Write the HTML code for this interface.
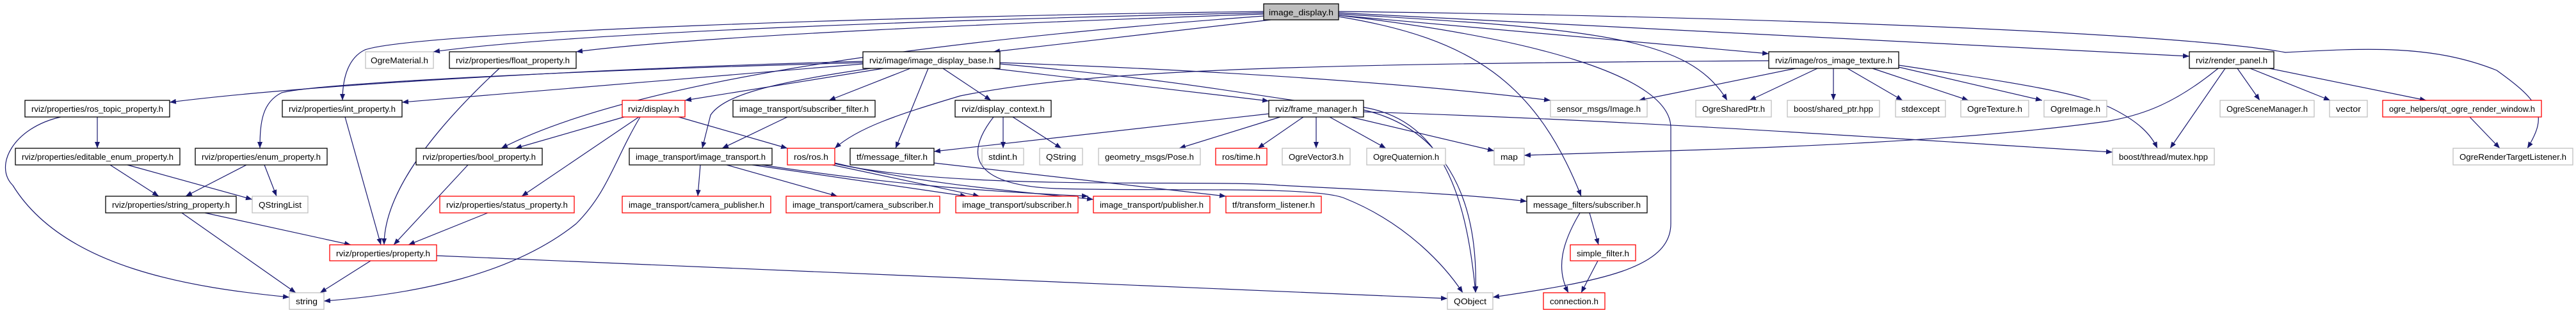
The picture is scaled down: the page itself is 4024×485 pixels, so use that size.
<!DOCTYPE html>
<html><head><meta charset="utf-8"><style>
html,body{margin:0;padding:0;background:#fff;}
svg{display:block;}
text{font-family:"Liberation Sans",sans-serif;font-size:13px;fill:#000;}
.e{fill:none;stroke:#191970;stroke-width:1.2;marker-end:url(#a);}
.b{fill:#fff;stroke:#000;stroke-width:1.3;}
.g{fill:#fff;stroke:#bfbfbf;stroke-width:1.3;}
.r{fill:#fff;stroke:#ff0000;stroke-width:1.3;}
</style></head><body>
<svg width="4024" height="485" viewBox="0 0 4024 485" xmlns="http://www.w3.org/2000/svg">
<defs><marker id="a" viewBox="0 0 10 8" refX="10" refY="4" markerWidth="10" markerHeight="8" markerUnits="userSpaceOnUse" orient="auto"><path d="M0,0 L10,4 L0,8 z" fill="#191970"/></marker></defs>
<g>
<path class="e" d="M1974,20 C1500,30 900,50 677,81"/>
<path class="e" d="M1974,22 C1600,35 1100,55 900,81"/>
<path class="e" d="M1974,18 C1400,25 650,50 570,78 C545,90 535,120 535,157"/>
<path class="e" d="M1985,31 L1552,81"/>
<path class="e" d="M1974,25 C1500,60 1000,120 783,232"/>
<path class="e" d="M2091,24 L2763,84"/>
<path class="e" d="M2091,22 C2500,45 2640,60 2698,157"/>
<path class="e" d="M2091,26 C2300,60 2400,130 2470,307"/>
<path class="e" d="M2091,24 C2400,60 2610,120 2610,200 L2610,350 C2610,420 2500,440 2332,465"/>
<path class="e" d="M2091,20 L3420,88"/>
<path class="e" d="M2091,18 C2700,25 3400,50 3570,82 C3700,75 3800,70 3900,110 C3970,160 3980,180 3948,232"/>
<path class="e" d="M1348,96 C1000,105 500,130 265,160"/>
<path class="e" d="M1348,100 L628,160"/>
<path class="e" d="M1348,98 C900,110 500,130 440,145 C410,160 406,190 406,232"/>
<path class="e" d="M1380,107 L1070,157"/>
<path class="e" d="M1422,107 L1295,157"/>
<path class="e" d="M1360,107 C1200,130 1130,150 1110,180 L1097,232"/>
<path class="e" d="M1450,107 L1399,232"/>
<path class="e" d="M1473,107 L1548,157"/>
<path class="e" d="M1550,107 L1982,158"/>
<path class="e" d="M1562,98 C1900,110 2200,130 2422,157"/>
<path class="e" d="M1562,100 C1900,130 2000,160 2100,165 C2250,170 2290,300 2305,458"/>
<path class="e" d="M2763,95 C2000,100 1700,110 1500,150 C1400,180 1340,200 1304,232"/>
<path class="e" d="M2805,107 L2560,157"/>
<path class="e" d="M2839,107 L2733,157"/>
<path class="e" d="M2864,107 L2864,157"/>
<path class="e" d="M2886,107 L2972,157"/>
<path class="e" d="M2925,107 L3075,157"/>
<path class="e" d="M2966,105 L3190,157"/>
<path class="e" d="M2966,102 C3150,130 3250,145 3300,170 C3340,190 3360,210 3370,232"/>
<path class="e" d="M3465,107 C3400,160 3350,180 3290,190 C3000,230 2600,235 2381,243"/>
<path class="e" d="M3476,107 L3390,232"/>
<path class="e" d="M3495,107 L3530,157"/>
<path class="e" d="M3515,107 L3640,157"/>
<path class="e" d="M3545,107 L3790,157"/>
<path class="e" d="M3858,183 L3905,232"/>
<path class="e" d="M1982,178 L1459,237"/>
<path class="e" d="M2000,183 L1842,232"/>
<path class="e" d="M2036,183 L1965,232"/>
<path class="e" d="M2056,183 L2056,232"/>
<path class="e" d="M2077,183 L2165,232"/>
<path class="e" d="M2110,183 L2334,236"/>
<path class="e" d="M2130,172 C2250,200 2310,300 2305,458"/>
<path class="e" d="M2130,175 C2600,190 3000,220 3300,238"/>
<path class="e" d="M1567,183 L1567,232"/>
<path class="e" d="M1582,183 L1658,232"/>
<path class="e" d="M1552,183 C1500,250 1530,290 1650,295 C1800,300 2050,290 2100,310 C2200,350 2260,420 2285,458"/>
<path class="e" d="M975,183 L805,232"/>
<path class="e" d="M998,183 L815,307"/>
<path class="e" d="M1000,183 C960,250 950,300 900,350 C800,430 650,460 506,471"/>
<path class="e" d="M1060,183 L1230,232"/>
<path class="e" d="M1230,183 L1128,232"/>
<path class="e" d="M1094,258 L1090,307"/>
<path class="e" d="M1135,258 L1308,307"/>
<path class="e" d="M1175,258 L1510,307"/>
<path class="e" d="M1190,258 C1400,290 1550,300 1700,307"/>
<path class="e" d="M1300,258 L1530,307"/>
<path class="e" d="M1304,255 C1450,290 1600,300 1708,312"/>
<path class="e" d="M1304,256 C1500,300 1900,280 2000,290 C2200,300 2300,305 2385,315"/>
<path class="e" d="M1459,255 L1915,307"/>
<path class="e" d="M152,183 L152,232"/>
<path class="e" d="M95,183 C20,200 -10,260 20,290 C100,420 300,450 452,465"/>
<path class="e" d="M172,258 L248,307"/>
<path class="e" d="M199,258 L394,312"/>
<path class="e" d="M385,258 L290,307"/>
<path class="e" d="M413,258 L432,307"/>
<path class="e" d="M320,333 L548,383"/>
<path class="e" d="M284,333 L462,458"/>
<path class="e" d="M539,183 L595,383"/>
<path class="e" d="M780,107 C680,200 600,300 600,383"/>
<path class="e" d="M731,258 L615,383"/>
<path class="e" d="M762,333 L638,383"/>
<path class="e" d="M579,408 L500,458"/>
<path class="e" d="M682,400 L2261,467"/>
<path class="e" d="M2483,333 L2497,383"/>
<path class="e" d="M2468,333 C2440,380 2430,420 2450,458"/>
<path class="e" d="M2496,408 L2470,458"/>
</g>
<g>
<rect x="1974" y="6" width="117" height="25" fill="#bfbfbf" stroke="#000" stroke-width="1.3"/><text x="1982" y="24" textLength="101" lengthAdjust="spacingAndGlyphs">image_display.h</text>

<rect class="g" x="571" y="81" width="106" height="26"/><text x="579" y="99" textLength="90" lengthAdjust="spacingAndGlyphs">OgreMaterial.h</text>
<rect class="b" x="702" y="81" width="198" height="26"/><text x="712" y="99" textLength="178" lengthAdjust="spacingAndGlyphs">rviz/properties/float_property.h</text>
<rect class="b" x="1348" y="81" width="214" height="26"/><text x="1358" y="99" textLength="194" lengthAdjust="spacingAndGlyphs">rviz/image/image_display_base.h</text>
<rect class="b" x="2763" y="81" width="203" height="26"/><text x="2773" y="99" textLength="183" lengthAdjust="spacingAndGlyphs">rviz/image/ros_image_texture.h</text>
<rect class="b" x="3420" y="81" width="132" height="26"/><text x="3430" y="99" textLength="112" lengthAdjust="spacingAndGlyphs">rviz/render_panel.h</text>

<rect class="b" x="39" y="157" width="226" height="26"/><text x="49" y="175" textLength="206" lengthAdjust="spacingAndGlyphs">rviz/properties/ros_topic_property.h</text>
<rect class="b" x="441" y="157" width="187" height="26"/><text x="451" y="175" textLength="167" lengthAdjust="spacingAndGlyphs">rviz/properties/int_property.h</text>
<rect class="r" x="972" y="157" width="98" height="26"/><text x="981" y="175" textLength="80" lengthAdjust="spacingAndGlyphs">rviz/display.h</text>
<rect class="b" x="1145" y="157" width="222" height="26"/><text x="1155" y="175" textLength="202" lengthAdjust="spacingAndGlyphs">image_transport/subscriber_filter.h</text>
<rect class="b" x="1492" y="157" width="150" height="26"/><text x="1502" y="175" textLength="130" lengthAdjust="spacingAndGlyphs">rviz/display_context.h</text>
<rect class="b" x="1982" y="157" width="148" height="26"/><text x="1992" y="175" textLength="128" lengthAdjust="spacingAndGlyphs">rviz/frame_manager.h</text>
<rect class="g" x="2422" y="157" width="151" height="26"/><text x="2432" y="175" textLength="131" lengthAdjust="spacingAndGlyphs">sensor_msgs/Image.h</text>
<rect class="g" x="2649" y="157" width="118" height="26"/><text x="2659" y="175" textLength="98" lengthAdjust="spacingAndGlyphs">OgreSharedPtr.h</text>
<rect class="g" x="2792" y="157" width="144" height="26"/><text x="2802" y="175" textLength="124" lengthAdjust="spacingAndGlyphs">boost/shared_ptr.hpp</text>
<rect class="g" x="2961" y="157" width="78" height="26"/><text x="2970" y="175" textLength="60" lengthAdjust="spacingAndGlyphs">stdexcept</text>
<rect class="g" x="3063" y="157" width="106" height="26"/><text x="3073" y="175" textLength="86" lengthAdjust="spacingAndGlyphs">OgreTexture.h</text>
<rect class="g" x="3193" y="157" width="98" height="26"/><text x="3203" y="175" textLength="78" lengthAdjust="spacingAndGlyphs">OgreImage.h</text>
<rect class="g" x="3468" y="157" width="147" height="26"/><text x="3478" y="175" textLength="127" lengthAdjust="spacingAndGlyphs">OgreSceneManager.h</text>
<rect class="g" x="3639" y="157" width="59" height="26"/><text x="3649" y="175" textLength="39" lengthAdjust="spacingAndGlyphs">vector</text>
<rect class="r" x="3722" y="157" width="248" height="26"/><text x="3732" y="175" textLength="228" lengthAdjust="spacingAndGlyphs">ogre_helpers/qt_ogre_render_window.h</text>

<rect class="b" x="24" y="232" width="257" height="26"/><text x="34" y="250" textLength="237" lengthAdjust="spacingAndGlyphs">rviz/properties/editable_enum_property.h</text>
<rect class="b" x="305" y="232" width="206" height="26"/><text x="315" y="250" textLength="186" lengthAdjust="spacingAndGlyphs">rviz/properties/enum_property.h</text>
<rect class="b" x="650" y="232" width="197" height="26"/><text x="660" y="250" textLength="177" lengthAdjust="spacingAndGlyphs">rviz/properties/bool_property.h</text>
<rect class="b" x="983" y="232" width="223" height="26"/><text x="993" y="250" textLength="203" lengthAdjust="spacingAndGlyphs">image_transport/image_transport.h</text>
<rect class="r" x="1230" y="232" width="74" height="26"/><text x="1240" y="250" textLength="54" lengthAdjust="spacingAndGlyphs">ros/ros.h</text>
<rect class="b" x="1328" y="232" width="131" height="26"/><text x="1338" y="250" textLength="111" lengthAdjust="spacingAndGlyphs">tf/message_filter.h</text>
<rect class="g" x="1534" y="232" width="65" height="26"/><text x="1544" y="250" textLength="45" lengthAdjust="spacingAndGlyphs">stdint.h</text>
<rect class="g" x="1624" y="232" width="67" height="26"/><text x="1634" y="250" textLength="47" lengthAdjust="spacingAndGlyphs">QString</text>
<rect class="g" x="1716" y="232" width="159" height="26"/><text x="1726" y="250" textLength="139" lengthAdjust="spacingAndGlyphs">geometry_msgs/Pose.h</text>
<rect class="r" x="1899" y="232" width="80" height="26"/><text x="1909" y="250" textLength="60" lengthAdjust="spacingAndGlyphs">ros/time.h</text>
<rect class="g" x="2003" y="232" width="106" height="26"/><text x="2013" y="250" textLength="86" lengthAdjust="spacingAndGlyphs">OgreVector3.h</text>
<rect class="g" x="2135" y="232" width="123" height="26"/><text x="2145" y="250" textLength="103" lengthAdjust="spacingAndGlyphs">OgreQuaternion.h</text>
<rect class="g" x="2334" y="232" width="47" height="26"/><text x="2344" y="250" textLength="27" lengthAdjust="spacingAndGlyphs">map</text>
<rect class="g" x="3300" y="232" width="159" height="26"/><text x="3310" y="250" textLength="139" lengthAdjust="spacingAndGlyphs">boost/thread/mutex.hpp</text>
<rect class="g" x="3832" y="232" width="187" height="26"/><text x="3842" y="250" textLength="167" lengthAdjust="spacingAndGlyphs">OgreRenderTargetListener.h</text>

<rect class="b" x="165" y="307" width="204" height="26"/><text x="175" y="325" textLength="184" lengthAdjust="spacingAndGlyphs">rviz/properties/string_property.h</text>
<rect class="g" x="394" y="307" width="87" height="26"/><text x="404" y="325" textLength="67" lengthAdjust="spacingAndGlyphs">QStringList</text>
<rect class="r" x="687" y="307" width="210" height="26"/><text x="697" y="325" textLength="190" lengthAdjust="spacingAndGlyphs">rviz/properties/status_property.h</text>
<rect class="r" x="972" y="307" width="232" height="26"/><text x="982" y="325" textLength="212" lengthAdjust="spacingAndGlyphs">image_transport/camera_publisher.h</text>
<rect class="r" x="1228" y="307" width="240" height="26"/><text x="1238" y="325" textLength="220" lengthAdjust="spacingAndGlyphs">image_transport/camera_subscriber.h</text>
<rect class="r" x="1493" y="307" width="191" height="26"/><text x="1503" y="325" textLength="171" lengthAdjust="spacingAndGlyphs">image_transport/subscriber.h</text>
<rect class="r" x="1708" y="307" width="182" height="26"/><text x="1718" y="325" textLength="162" lengthAdjust="spacingAndGlyphs">image_transport/publisher.h</text>
<rect class="r" x="1915" y="307" width="149" height="26"/><text x="1925" y="325" textLength="129" lengthAdjust="spacingAndGlyphs">tf/transform_listener.h</text>
<rect class="b" x="2385" y="307" width="188" height="26"/><text x="2395" y="325" textLength="168" lengthAdjust="spacingAndGlyphs">message_filters/subscriber.h</text>

<rect class="r" x="515" y="383" width="167" height="25"/><text x="525" y="401" textLength="147" lengthAdjust="spacingAndGlyphs">rviz/properties/property.h</text>
<rect class="r" x="2453" y="383" width="102" height="25"/><text x="2463" y="401" textLength="82" lengthAdjust="spacingAndGlyphs">simple_filter.h</text>

<rect class="g" x="452" y="458" width="54" height="26"/><text x="462" y="476" textLength="34" lengthAdjust="spacingAndGlyphs">string</text>
<rect class="g" x="2261" y="458" width="71" height="26"/><text x="2271" y="476" textLength="51" lengthAdjust="spacingAndGlyphs">QObject</text>
<rect class="r" x="2411" y="458" width="96" height="26"/><text x="2421" y="476" textLength="76" lengthAdjust="spacingAndGlyphs">connection.h</text>
</g>
</svg>
</body></html>
